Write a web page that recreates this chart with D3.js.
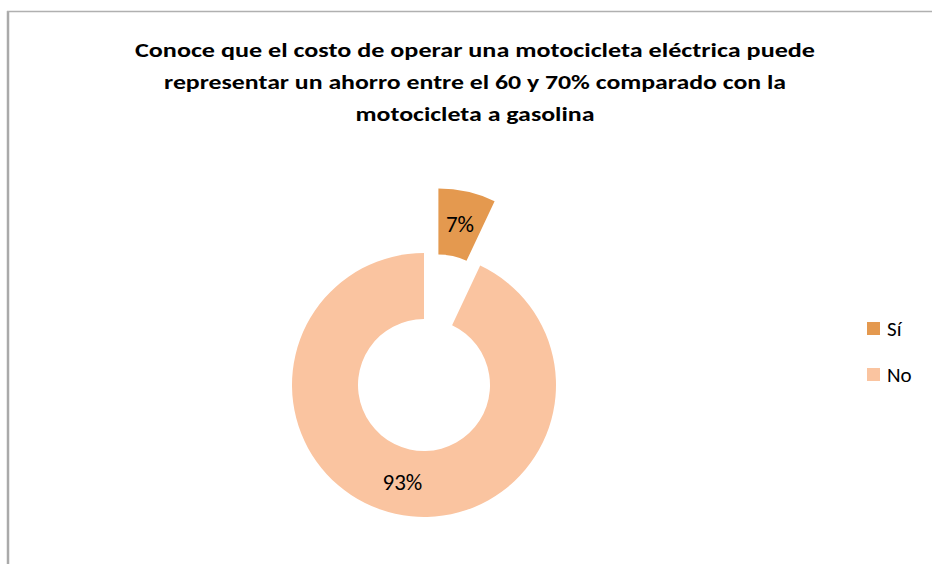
<!DOCTYPE html>
<html>
<head>
<meta charset="utf-8">
<script src="https://cdn.jsdelivr.net/npm/d3@7"></script>
<style>
  body { margin: 0; background: #fff; }
  text { font-family: Carlito, "Open Sans", sans-serif; }
</style>
</head>
<body>
<div id="chart"></div>
<script>
var categories = ["Sí", "No"];
var values = [7, 93];
var colors = ["#E4994F", "#FAC4A0"];
var titleLines = [
  "Conoce que  el costo de operar una motocicleta eléctrica puede",
  "representar un ahorro entre el 60 y 70% comparado con la",
  "motocicleta a gasolina"
];

var width = 932, height = 564;

var svg = d3.select("#chart").append("svg")
  .attr("width", width)
  .attr("height", height);

// marco del grafico
svg.append("line").attr("x1", 8).attr("x2", 8).attr("y1", 11).attr("y2", height)
  .style("stroke", "#aaa").style("stroke-width", 2.5);
svg.append("line").attr("x1", 7).attr("x2", width).attr("y1", 11.5).attr("y2", 11.5)
  .style("stroke", "#b0b0b0").style("stroke-width", 1.5);

// titulo
var titleWidths = [680, 622, 239];
svg.append("g").selectAll("text")
  .data(titleLines)
  .enter()
  .append("text")
  .attr("x", 475)
  .attr("y", function (d, i) { return 57 + i * 32; })
  .attr("text-anchor", "middle")
  .attr("textLength", function (d, i) { return titleWidths[i]; })
  .attr("lengthAdjust", "spacingAndGlyphs")
  .style("font-size", "21px")
  .style("font-weight", "bold")
  .style("fill", "#000")
  .text(function (d) { return d; });

var cx = 424, cy = 385, outer = 132, inner = 66, explode = 66;

var pie = d3.pie().sort(null).value(function (d) { return d; });
var arc = d3.arc().innerRadius(inner).outerRadius(outer);
var arcs = pie(values);

function offset(d, i) {
  if (i != 0) return [0, 0];
  var a = (d.startAngle + d.endAngle) / 2;
  return [explode * Math.sin(a), -explode * Math.cos(a)];
}

var g = svg.append("g").attr("transform", "translate(" + cx + "," + cy + ")");

var slices = g.selectAll("g.slice")
  .data(arcs)
  .enter()
  .append("g")
  .attr("class", "slice")
  .attr("transform", function (d, i) {
    var o = offset(d, i);
    return "translate(" + o[0] + "," + o[1] + ")";
  });

slices.append("path")
  .attr("d", arc)
  .style("fill", function (d, i) { return colors[i]; });

slices.append("text")
  .attr("transform", function (d) { return "translate(" + arc.centroid(d) + ")"; })
  .attr("text-anchor", "middle")
  .attr("dy", "0.35em")
  .style("font-size", "23px")
  .style("fill", "#000")
  .text(function (d) { return d.value + "%"; });

// leyenda
var legend = svg.append("g").selectAll("g")
  .data(categories)
  .enter()
  .append("g")
  .attr("transform", function (d, i) { return "translate(867," + (322 + i * 46) + ")"; });

legend.append("rect")
  .attr("width", 13)
  .attr("height", 13)
  .style("fill", function (d, i) { return colors[i]; });

legend.append("text")
  .attr("x", 20)
  .attr("y", 7)
  .attr("dy", "0.35em")
  .style("font-size", "21px")
  .style("fill", "#000")
  .text(function (d) { return d; });
</script>
</body>
</html>
